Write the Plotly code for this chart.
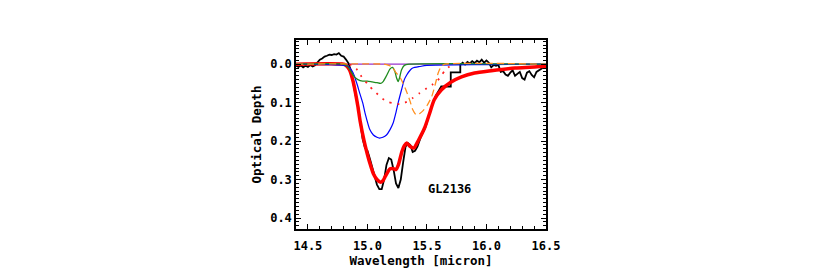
import plotly.graph_objects as go

# Observed spectrum (black)
obs_wl = [14.40, 14.42, 14.44, 14.46, 14.48, 14.50, 14.52, 14.54, 14.56, 14.58,
          14.60, 14.62, 14.64, 14.66, 14.68, 14.70, 14.72, 14.74, 14.76, 14.78,
          14.80, 14.82, 14.84, 14.86, 14.88, 14.90, 14.92, 14.94, 14.96, 14.98,
          15.00, 15.02, 15.04, 15.06, 15.08, 15.10, 15.12, 15.14, 15.16, 15.18,
          15.20, 15.22, 15.24, 15.26, 15.28, 15.30, 15.32, 15.34, 15.36, 15.38,
          15.40, 15.42, 15.45, 15.49, 15.53, 15.57, 15.60, 15.62, 15.70, 15.70,
          15.78, 15.78, 15.80, 15.82, 15.84, 15.86, 15.88, 15.90, 15.92, 15.94,
          15.96, 15.98, 16.00, 16.02, 16.04, 16.06, 16.08, 16.10, 16.12, 16.14,
          16.16, 16.18, 16.20, 16.22, 16.24, 16.26, 16.28, 16.30, 16.32, 16.34,
          16.36, 16.38, 16.40, 16.42, 16.44, 16.46, 16.48, 16.50]
obs_tau = [0.004, 0.007, 0.003, 0.008, 0.004, 0.007, 0.002, 0.006, 0.003, -0.005,
           -0.012, -0.015, -0.020, -0.022, -0.025, -0.024, -0.026, -0.025, -0.029, -0.022,
           -0.020, -0.012, -0.003, 0.015, 0.050, 0.080, 0.105, 0.150, 0.195, 0.218,
           0.225, 0.245, 0.266, 0.290, 0.313, 0.325, 0.325, 0.300, 0.262, 0.244,
           0.248, 0.275, 0.310, 0.322, 0.300, 0.255, 0.215, 0.205, 0.210, 0.228,
           0.225, 0.214, 0.188, 0.162, 0.119, 0.084, 0.066, 0.058, 0.058, 0.021,
           0.021, 0.002, -0.004, 0.001, -0.006, -0.002, -0.008, -0.003, -0.009, -0.005,
           -0.012, -0.004, -0.010, -0.004, 0.008, 0.002, 0.004, 0.002, 0.020, 0.018,
           0.027, 0.030, 0.022, 0.016, 0.030, 0.024, 0.020, 0.036, 0.040, 0.022,
           0.018, 0.028, 0.034, 0.020, 0.016, 0.014, 0.008, 0.004]

# Total model fit (thick red)
fit_wl = [14.40, 14.80, 14.82, 14.85, 14.88, 14.90, 14.92, 14.94, 14.97, 15.00,
          15.02, 15.05, 15.08, 15.11, 15.13, 15.15, 15.19, 15.22, 15.24, 15.26,
          15.29, 15.31, 15.33, 15.36, 15.39, 15.43, 15.48, 15.52, 15.56, 15.62,
          15.70, 15.79, 15.90, 16.04, 16.24, 16.50]
fit_tau = [0.0, 0.0, 0.003, 0.015, 0.045, 0.075, 0.110, 0.150, 0.197, 0.235,
           0.257, 0.285, 0.300, 0.307, 0.303, 0.292, 0.272, 0.272, 0.274, 0.262,
           0.227, 0.212, 0.205, 0.214, 0.218, 0.197, 0.166, 0.130, 0.093, 0.067,
           0.047, 0.033, 0.023, 0.017, 0.010, 0.005]

# Component: blue
blue_wl = [14.40, 14.70, 14.80, 14.84, 14.88, 14.91, 14.935, 14.96, 14.98, 15.02,
           15.05, 15.08, 15.10, 15.13, 15.16, 15.19, 15.216, 15.24, 15.26, 15.286,
           15.31, 15.33, 15.36, 15.38, 15.44, 15.50, 16.00, 16.50]
blue_tau = [0.0, 0.001, 0.003, 0.006, 0.023, 0.049, 0.075, 0.100, 0.127, 0.170,
            0.184, 0.190, 0.192, 0.190, 0.184, 0.170, 0.153, 0.125, 0.098, 0.067,
            0.040, 0.028, 0.015, 0.010, 0.006, 0.003, 0.001, 0.0]

# Component: green
green_wl = [14.40, 14.80, 14.83, 14.86, 14.89, 14.92, 14.96, 15.00, 15.04, 15.08,
            15.11, 15.13, 15.16, 15.19, 15.21, 15.23, 15.245, 15.258, 15.27, 15.286,
            15.31, 15.35, 16.50]
green_tau = [0.0, 0.0, 0.005, 0.018, 0.033, 0.040, 0.044, 0.044, 0.046, 0.048,
             0.050, 0.046, 0.030, 0.012, 0.008, 0.018, 0.036, 0.045, 0.035, 0.015,
             0.003, 0.0, 0.0]

# Component: red dotted
dot_wl = [14.85, 14.88, 14.91, 14.95, 15.02, 15.075, 15.16, 15.215, 15.27,
          15.33, 15.38, 15.44, 15.50, 15.55, 15.59, 15.62, 15.65, 15.68, 15.72]
dot_tau = [0.0, 0.005, 0.013, 0.032, 0.058, 0.075, 0.097, 0.101, 0.104,
           0.098, 0.088, 0.075, 0.062, 0.052, 0.042, 0.030, 0.017, 0.008, 0.002]

# Component: orange dashed
orange_wl = [14.40, 15.14, 15.18, 15.21, 15.24, 15.27, 15.30, 15.33, 15.36, 15.38,
             15.41, 15.44, 15.47, 15.50, 15.54, 15.57, 15.595, 15.62, 15.65, 16.50]
orange_tau = [0.0, 0.0, 0.003, 0.008, 0.022, 0.032, 0.050, 0.072, 0.098, 0.118,
              0.132, 0.128, 0.120, 0.108, 0.084, 0.052, 0.022, 0.006, 0.0, 0.0]

# Component: purple (flat)
purple_wl = [14.40, 16.50]
purple_tau = [0.0, 0.0]

x_ticks = [14.5, 15.0, 15.5, 16.0, 16.5]
x_ticklabels = ["14.5", "15.0", "15.5", "16.0", "16.5"]
y_ticks = [0.0, 0.1, 0.2, 0.3, 0.4]
y_ticklabels = ["0.0", "0.1", "0.2", "0.3", "0.4"]

FONT = "DejaVu Sans Mono"

fig = go.Figure()
fig.add_trace(go.Scatter(x=purple_wl, y=purple_tau, mode="lines",
                         line=dict(color="#9933cc", width=1.2)))
fig.add_trace(go.Scatter(x=obs_wl, y=obs_tau, mode="lines",
                         line=dict(color="black", width=1.8)))
fig.add_trace(go.Scatter(x=fit_wl, y=fit_tau, mode="lines",
                         line=dict(color="#ff0000", width=3.5, shape="spline", smoothing=0.6)))
fig.add_trace(go.Scatter(x=blue_wl, y=blue_tau, mode="lines",
                         line=dict(color="#0000ff", width=1.2, shape="spline", smoothing=0.6)))
fig.add_trace(go.Scatter(x=green_wl, y=green_tau, mode="lines",
                         line=dict(color="#1f8c1f", width=1.3, shape="spline", smoothing=0.6)))
fig.add_trace(go.Scatter(x=dot_wl, y=dot_tau, mode="lines",
                         line=dict(color="#ff2020", width=1.8, dash="2px,6px", shape="spline", smoothing=0.6)))
fig.add_trace(go.Scatter(x=orange_wl, y=orange_tau, mode="lines",
                         line=dict(color="#ff9020", width=1.3, dash="7px,4px", shape="spline", smoothing=0.6)))

fig.add_annotation(x=15.69, y=0.325, text="GL2136", showarrow=False,
                   font=dict(family=FONT, size=12, color="black", weight="bold"))

axis_common = dict(showline=True, linecolor="black", linewidth=1.5, mirror="allticks",
                   ticks="inside", ticklen=5, tickwidth=1, tickcolor="black",
                   showgrid=False, zeroline=False, automargin=False,
                   tickfont=dict(family=FONT, size=12, color="black", weight="bold"))

fig.update_xaxes(range=[14.4, 16.5], tickvals=x_ticks, ticktext=x_ticklabels,
                 ticklabelstandoff=5,
                 title=dict(text="Wavelength [micron]",
                            font=dict(family=FONT, size=12.5, color="black", weight="bold"), standoff=0),
                 minor=dict(ticks="inside", ticklen=3, dtick=0.1, tick0=14.4, tickcolor="black", showgrid=False),
                 **axis_common)
fig.update_yaxes(range=[0.4286, -0.063], tickvals=y_ticks, ticktext=y_ticklabels,
                 title=dict(text="Optical Depth",
                            font=dict(family=FONT, size=12.5, color="black", weight="bold"), standoff=6),
                 minor=dict(ticks="inside", ticklen=3, dtick=0.01, tick0=0, tickcolor="black", showgrid=False),
                 **axis_common)

fig.update_layout(width=817, height=272, showlegend=False,
                  paper_bgcolor="white", plot_bgcolor="white",
                  margin=dict(l=288, r=279, t=32, b=51))

fig.write_html("out.html")
